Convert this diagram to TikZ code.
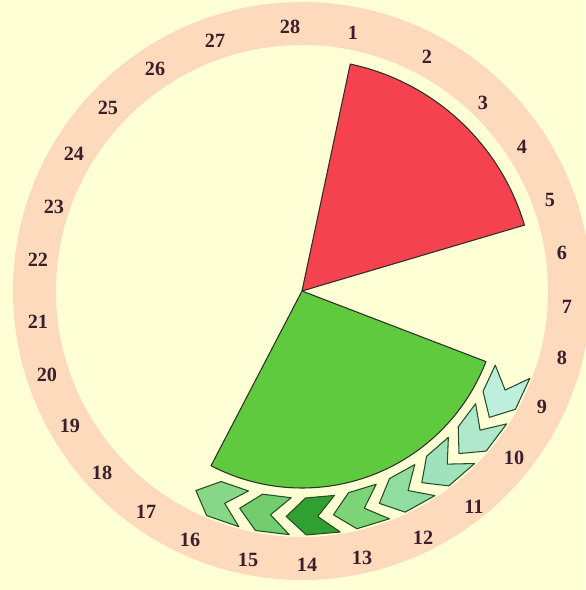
\documentclass[tikz,border=0pt]{standalone}
\usepackage{fontspec}
\setmainfont{Liberation Serif}
\usepackage{xcolor}
\usepackage{tikz}
\usetikzlibrary{calc}
\definecolor{mybg}{RGB}{255,255,213}
\definecolor{myring}{RGB}{253,218,188}
\definecolor{myred}{RGB}{244,66,78}
\definecolor{mygreen}{RGB}{95,202,62}
\definecolor{mydark}{RGB}{45,45,45}
\definecolor{mytext}{RGB}{60,30,45}
\definecolor{chevA}{RGB}{190,238,220}
\definecolor{chevB}{RGB}{176,232,205}
\definecolor{chevC}{RGB}{160,226,188}
\definecolor{chevD}{RGB}{145,220,160}
\definecolor{chevE}{RGB}{125,212,118}
\definecolor{chevF}{RGB}{48,160,48}
\definecolor{chevG}{RGB}{115,205,108}
\definecolor{chevH}{RGB}{135,215,135}
\tikzset{
  sector/.style={draw=mydark, line width=0.6pt, line join=round},
  chevron/.style={draw=mydark!85!green, line width=0.6pt, line join=round},
  daylabel/.style={font=\fontsize{11.5}{13}\selectfont\bfseries, text=mytext, inner sep=0pt}
}
\begin{document}
\begin{tikzpicture}[x=0.02cm, y=0.02cm]
  % background
  \fill[mybg] (-302,-299) rectangle (283,291);
  \useasboundingbox (-302,-299) rectangle (283,291);
  % ring of days
  \fill[myring, even odd rule] (0,0) circle (289) (0,0) circle (246);
  \foreach \d/\x/\y in {1/51/258, 2/125/234, 3/181/188, 4/220/144, 5/248/91, 6/260/38, 7/265/-16,
      8/260/-67, 9/240/-116, 10/212/-167, 11/172/-216, 12/121/-247, 13/60/-267, 14/5/-274,
      15/-54/-269, 16/-112/-249, 17/-156/-221, 18/-200/-182, 19/-232/-135, 20/-255/-84, 21/-264/-31,
      22/-264/31, 23/-248/84, 24/-228/137, 25/-194/183, 26/-147/222, 27/-87/250, 28/-12/264}
    \node[daylabel] (d\d) at (\x,\y) {\d};
  % red sector: days 1--5
  \filldraw[sector, fill=myred] (0,0) -- (78:232) arc (78:16.5:232) -- cycle;
  % green sector
  \filldraw[sector, fill=mygreen] (0,0) -- (-21:197) arc (-21:-117.5:197) -- cycle;
  % chevrons along the green arc
  \foreach \k/\col in {1/chevA, 2/chevB, 3/chevC, 4/chevD, 5/chevE, 6/chevF, 7/chevG, 8/chevH} {
    \pgfmathsetmacro{\b}{-21-12*(\k-1)}
    \filldraw[chevron, fill=\col] (\b:207) -- (\b-5:226) -- (\b:244)
      -- (\b-8:244) -- (\b-13:226) -- (\b-8:207) -- cycle;
  }
\end{tikzpicture}
\end{document}
